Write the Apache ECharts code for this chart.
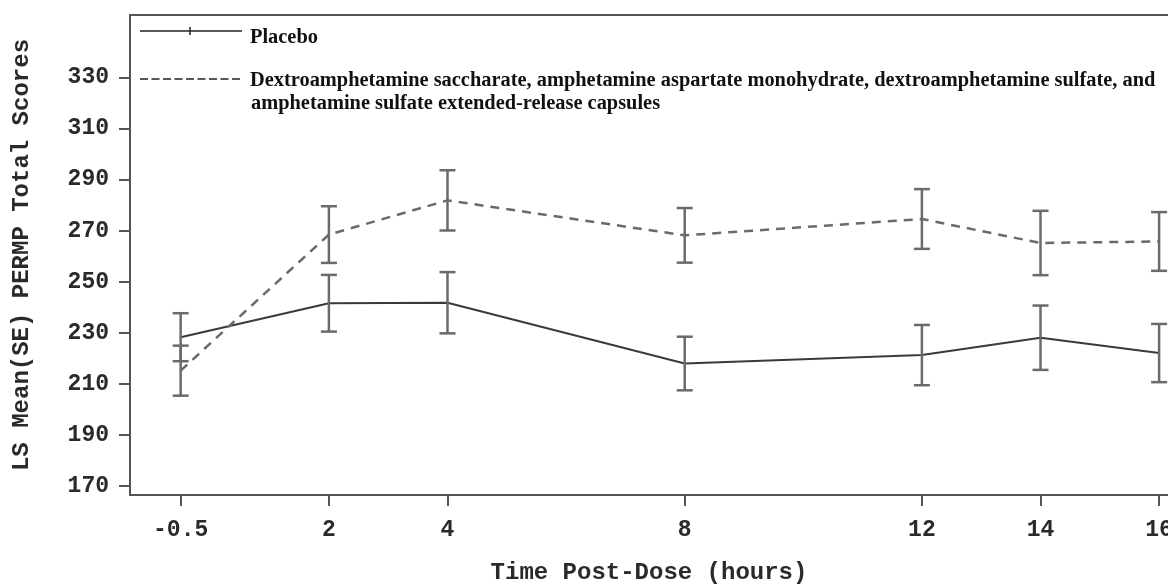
<!DOCTYPE html>
<html style="height: 100%">
<head>
    <meta charset="utf-8">
    <title>PERMP Total Scores</title>
</head>
<body style="height: 100%; margin: 0">
<div id="container" style="width: 1168px; height: 584px"></div>

<script src="https://cdn.jsdelivr.net/npm/echarts/dist/echarts.min.js"></script>
<script type="text/javascript">
// time points (hours post-dose)
var hours = [-0.5, 2, 4, 8, 12, 14, 16];
// LS mean and SE
var placeboMean = [228.3, 241.6, 241.8, 218.0, 221.3, 228.1, 222.1];
var placeboSE   = [9.4, 11.1, 12.0, 10.5, 11.8, 12.6, 11.4];
var drugMean    = [215.2, 268.5, 281.9, 268.2, 274.6, 265.2, 265.8];
var drugSE      = [9.8, 11.1, 11.8, 10.7, 11.7, 12.6, 11.5];
var yTicks = [170, 190, 210, 230, 250, 270, 290, 310, 330];

var placeboName = 'Placebo';
var drugName = 'Dextroamphetamine saccharate, amphetamine aspartate monohydrate, dextroamphetamine sulfate, and';
var drugName2 = 'amphetamine sulfate extended-release capsules';

var myChart = echarts.init(document.getElementById('container'));

function points(mean) {
    var res = [];
    for (var i = 0; i < hours.length; i++) {
        res.push([hours[i], mean[i]]);
    }
    return res;
}
function bars(mean, se) {
    var res = [];
    for (var i = 0; i < hours.length; i++) {
        res.push([hours[i], mean[i] - se[i], mean[i] + se[i]]);
    }
    return res;
}

// error bar: vertical line with caps
function renderBar(params, api) {
    var lo = api.coord([api.value(0), api.value(1)]);
    var hi = api.coord([api.value(0), api.value(2)]);
    var w = 8;
    var st = {stroke: '#6a6a6a', lineWidth: 2.5};
    return {
        type: 'group',
        children: [
            {type: 'line', shape: {x1: lo[0], y1: lo[1], x2: hi[0], y2: hi[1]}, style: st},
            {type: 'line', shape: {x1: lo[0] - w, y1: lo[1], x2: lo[0] + w, y2: lo[1]}, style: st},
            {type: 'line', shape: {x1: hi[0] - w, y1: hi[1], x2: hi[0] + w, y2: hi[1]}, style: st}
        ]
    };
}

var monoFamily = 'Liberation Mono';
var textColor = '#2a2a2a';
var frame = {color: '#555', width: 2};
var serifFont = 'bold 20.4px "Liberation Serif"';

var option = {
    backgroundColor: '#fff',
    animation: false,
    grid: {
        left: 130,
        right: 0,
        top: 15,
        bottom: 89,
        outerBoundsMode: 'none'
    },
    xAxis: [{
        type: 'value',
        min: -1.354,
        max: 16.15,
        name: 'Time Post-Dose (hours)',
        nameLocation: 'middle',
        nameGap: 66,
        nameTextStyle: {fontFamily: monoFamily, fontWeight: 'bold', fontSize: 24, color: textColor},
        splitLine: {show: false},
        axisLine: {onZero: false, lineStyle: frame},
        axisTick: {show: true, customValues: hours, length: 11, lineStyle: frame},
        axisLabel: {
            customValues: hours,
            margin: 24,
            fontSize: 23,
            fontFamily: monoFamily,
            fontWeight: 'bold',
            color: textColor
        }
    }, {
        // top edge of the frame
        type: 'value',
        position: 'top',
        min: -1.354,
        max: 16.15,
        splitLine: {show: false},
        axisLine: {show: true, onZero: false, lineStyle: frame},
        axisTick: {show: false},
        axisLabel: {show: false}
    }],
    yAxis: {
        type: 'value',
        min: 166.5,
        max: 354.5,
        name: 'LS Mean(SE) PERMP Total Scores',
        nameLocation: 'middle',
        nameGap: 96,
        nameTextStyle: {fontFamily: monoFamily, fontWeight: 'bold', fontSize: 24, color: textColor},
        splitLine: {show: false},
        axisLine: {show: true, onZero: false, lineStyle: frame},
        axisTick: {show: true, customValues: yTicks, length: 11, lineStyle: frame},
        axisLabel: {
            customValues: yTicks,
            margin: 21,
            fontSize: 23,
            fontFamily: monoFamily,
            fontWeight: 'bold',
            color: textColor
        }
    },
    graphic: [
        // legend, drawn by hand to keep the two-line label
        {type: 'line', shape: {x1: 140, y1: 31, x2: 242, y2: 31}, style: {stroke: '#222', lineWidth: 1.5}},
        {type: 'line', shape: {x1: 190, y1: 27, x2: 190, y2: 35}, style: {stroke: '#222', lineWidth: 1.5}},
        {type: 'text', left: 250, top: 28, style: {text: placeboName, font: serifFont, fill: '#111'}},
        {type: 'line', shape: {x1: 140, y1: 79, x2: 242, y2: 79}, style: {stroke: '#222', lineWidth: 1.5, lineDash: [8, 3.5]}},
        {type: 'text', left: 250, top: 71, style: {text: drugName, font: serifFont, fill: '#111'}},
        {type: 'text', left: 251, top: 94, style: {text: drugName2, font: serifFont, fill: '#111'}}
    ],
    series: [
        {
            name: placeboName,
            type: 'line',
            data: points(placeboMean),
            symbol: 'none',
            lineStyle: {color: '#3a3a3a', width: 2},
            z: 3
        },
        {
            name: drugName,
            type: 'line',
            data: points(drugMean),
            symbol: 'none',
            lineStyle: {color: '#6a6a6a', width: 2.5, type: [9, 7]},
            z: 3
        },
        {
            type: 'custom',
            renderItem: renderBar,
            data: bars(placeboMean, placeboSE),
            encode: {x: 0, y: [1, 2]},
            z: 4
        },
        {
            type: 'custom',
            renderItem: renderBar,
            data: bars(drugMean, drugSE),
            encode: {x: 0, y: [1, 2]},
            z: 4
        }
    ]
};
myChart.setOption(option);
</script>
</body>
</html>
